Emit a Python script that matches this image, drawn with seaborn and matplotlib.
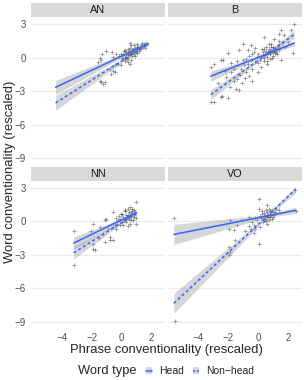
import numpy as np
import pandas as pd
import matplotlib
matplotlib.use("Agg")
import matplotlib.pyplot as plt
from matplotlib.patches import Patch, Rectangle
from matplotlib.lines import Line2D
import seaborn as sns

facets = ["AN", "B", "NN", "VO"]
word_types = ["Head", "Non\u2212head"]

# scatter points (phrase conventionality, word conventionality)
an_x = [-1.58, -1.47, -1.35, -1.31, -1.02, -0.62, -0.58, -0.36, -0.02, 0.09, 0.31, 0.42, 0.53, 0.53,
        0.65, 0.75, -1.47, -1.36, -1.24, -1.13, -0.69, -0.58, -0.47, -0.8, -0.24, -0.02, -0.47,
        0.1, 0.2, 0.3, 0.4, 0.5, 0.6, 0.7, 0.8, 0.9, 1.0, 1.1, 1.2, 1.3, 1.4, 1.5, 1.6, 1.7,
        0.2, 0.35, 0.45, 0.6, 0.7, 0.85, 0.95, 1.05, 1.15, 1.25, 0.0, 0.15, 0.55, 0.8, 1.0,
        0.4, 0.65, 0.9, 1.35, 1.55, 0.3, 0.5, 0.75, 1.0, -0.2, 0.25]
an_y = [-0.39, 0.0, -0.24, 0.36, 0.59, 0.5, 0.05, 0.36, 0.3, -0.09, 0.21, -0.39, -0.54, 1.31,
        1.1, 0.81, -2.04, -2.19, -2.34, -2.19, -1.44, -1.14, -0.69, -0.99, -0.54, -0.69, -1.29,
        0.35, 0.1, 0.5, 0.3, 0.6, 0.4, 0.7, 0.6, 0.9, 0.7, 1.0, 0.9, 1.1, 1.0, 1.2, 1.3, 1.2,
        -0.3, -0.1, 0.1, -0.2, 0.2, 0.3, 0.5, 0.4, 0.6, 0.8, 0.0, 0.6, 0.9, 1.1, 1.2,
        0.8, 0.45, 0.2, 1.3, 0.9, 0.0, 0.35, 0.55, 0.95, 0.2, 0.7]

b_x = [2.39, 2.32, -3.17, -3.17, -2.94, -2.5, -2.39, -2.05, -2.5, -2.34, -1.5, -1.28, 1.5, 1.39,
       0.39, -1.28, -2.05, -2.94, -2.17, -1.61, -1.83, -1.05, -0.5, -0.72, -0.39, -0.5, -0.95,
       -1.17, -0.83, -0.61, -0.39, -0.05, 0.17, 1.05, 1.39, 1.72, 1.95, 2.17, 1.5, 0.61, 0.83,
       1.28, -1.8, -1.6, -1.4, -1.2, -1.0, -0.9, -0.7, -0.6, -0.4, -0.3, -0.2, 0.0, 0.0, -2.7,
       -2.2, -1.9, -1.4, -1.1, -0.8, -0.2, 0.2, 0.3, 0.4, 0.5, 0.6, 0.7, 0.8, 0.9, 1.0, 1.1,
       1.2, 1.3, 0.35, 0.55, 0.75, 0.95, 1.15, 0.45, 0.65, 0.85, 1.05, 0.25, 0.5, 0.7, 1.4,
       1.6, 1.8, 0.1, 0.9, 1.25, 0.6, 0.4, 1.0, -0.1, 0.75, 1.1, 0.3, 0.8]
b_y = [3.05, 0.41, -0.84, -3.93, -3.93, -3.54, -3.39, -3.63, -0.24, -0.18, -2.79, -2.88, 2.45, 1.46,
       1.85, 0.66, 0.41, -0.54, -1.74, -2.04, -1.29, 1.26, 1.1, 0.66, 0.36, -0.24, -0.69,
       -0.99, -1.29, -1.59, -2.04, -1.29, -0.84, 1.7, 2.16, 2.0, 1.4, 2.45, -0.24, -0.54, 1.26,
       0.95, -0.5, -1.0, -0.3, -1.5, -0.2, -1.8, -0.6, 0.2, -1.0, 0.5, -0.4, 0.3, -0.5, -2.3,
       -1.2, -2.6, -1.9, -2.3, -0.1, 0.9, 0.2, 0.5, 0.0, 0.6, 0.3, 0.8, 0.4, 0.7, 0.2, 0.9,
       0.5, 1.1, -0.3, 0.1, -0.1, 0.5, 0.75, 0.35, 0.55, 0.95, 0.6, 0.8, 1.0, 1.2, 0.7,
       1.3, 1.0, -0.2, 0.0, 0.3, -0.3, 0.75, 1.0, 0.1, 0.35, 0.45, 0.15, 0.65]

nn_x = [-3.2, -3.2, -1.91, -2.02, -1.91, -1.91, -1.8, -1.47, -1.25, -1.13, -1.02, -1.13, -0.8,
        -0.8, -0.58, -0.58, -0.47, -0.36, -0.24, -0.13, -0.02, 0.2, 0.42, 0.53, 0.93, 0.98, 0.75,
        -0.3, -0.1, 0.0, 0.1, 0.2, 0.3, 0.4, 0.5, 0.6, 0.7, 0.8, 0.9, 0.1, 0.3, 0.5, 0.65, 0.85,
        0.25, 0.45, 0.7, -0.2, 0.05, 0.55, 0.35, 0.95, -0.6, -0.9, 0.15, 0.6, -1.5, -0.4, 0.8, 0.4]
nn_y = [-0.9, -3.95, -0.21, -0.9, -2.0, -2.45, -2.55, -0.51, -1.1, -1.86, 0.24, 0.09, -1.41,
        -1.71, -1.71, 0.84, -0.36, -0.66, 0.09, -0.36, 0.69, 0.99, 1.14, 1.28, 1.73, -0.21, 0.09,
        -0.2, 0.2, -0.1, 0.4, 0.1, 0.6, 0.3, 0.8, 0.5, 0.9, 0.6, 0.8, -0.3, -0.1, 0.2, 0.1, 0.4,
        0.9, 0.55, 1.1, 0.5, 0.7, -0.2, 0.35, 0.3, -0.5, -0.7, 0.15, 0.75, -1.5, 0.3, 1.0, -0.4]

vo_x = [-5.63, -5.57, -1.86, -1.97, -1.63, -1.57, -1.97, -1.95, -1.88, 0.03, 0.03, -1.08, -0.63,
        -0.52, -0.3, -0.19, -0.41, -0.08, 0.26, 0.48, 0.7, 0.92, 1.14, 1.37, 0.37, 0.14, 0.59,
        0.81, 0.03, 0.59, 2.45, 2.48, 0.2, 0.35, 0.45, 0.55, 0.65, 0.75, 0.85, 0.95, 1.05, 0.3,
        0.5, 0.7, 0.6, 0.4, 0.8, 1.0, 1.2, 0.1, -0.2, 0.25, 0.9, 0.55, -0.6, -1.4, -0.9, -0.3,
        0.65, 0.45]
vo_y = [0.33, -8.9, 0.15, -0.66, -0.75, -1.71, -2.31, -3.0, -2.76, -2.07, 2.04, 0.15, -0.42,
        -0.66, -0.36, -0.66, -0.06, 0.09, 0.69, 0.99, 1.14, 0.99, 0.84, 0.99, 0.09, -0.51, -0.21,
        0.39, 1.14, 1.44, 2.8, 0.95, 0.3, 0.5, 0.2, 0.6, 0.4, 0.7, 0.55, 0.8, 0.6, -0.1,
        0.0, 0.1, 0.85, 0.75, 0.95, 0.4, 1.1, 0.45, 0.3, 0.95, 0.25, 0.35, 0.4, -0.3, -0.9, -1.0,
        0.55, 0.45]

# fitted lines: x at start / near mean / end, fitted y there and CI half width
an_fit_x = [-4.4, 0.4, 1.75]
an_head_y = [-2.64, 0.40, 1.26]
an_head_ci = [0.63, 0.10, 0.18]
an_non_y = [-4.04, 0.05, 1.22]
an_non_ci = [0.67, 0.10, 0.18]

b_fit_x = [-3.17, 0.3, 2.39]
b_head_y = [-1.65, 0.20, 1.31]
b_head_ci = [0.45, 0.08, 0.22]
b_non_y = [-3.30, 0.06, 2.09]
b_non_ci = [0.45, 0.08, 0.37]

nn_fit_x = [-3.2, 0.0, 0.98]
nn_head_y = [-1.95, 0.14, 0.78]
nn_head_ci = [0.55, 0.10, 0.20]
nn_non_y = [-2.82, -0.11, 0.72]
nn_non_ci = [0.55, 0.10, 0.20]

vo_fit_x = [-5.63, 0.5, 2.48]
vo_head_y = [-1.17, 0.46, 0.99]
vo_head_ci = [0.90, 0.12, 0.28]
vo_non_y = [-7.34, 0.36, 2.85]
vo_non_ci = [0.90, 0.12, 0.30]

pts = pd.concat([
    pd.DataFrame({"facet": f, "x": xs, "y": ys})
    for f, xs, ys in [("AN", an_x, an_y), ("B", b_x, b_y), ("NN", nn_x, nn_y), ("VO", vo_x, vo_y)]
])

fit_rows = []
for f, fx, hy, hc, ny, nc in [
    ("AN", an_fit_x, an_head_y, an_head_ci, an_non_y, an_non_ci),
    ("B", b_fit_x, b_head_y, b_head_ci, b_non_y, b_non_ci),
    ("NN", nn_fit_x, nn_head_y, nn_head_ci, nn_non_y, nn_non_ci),
    ("VO", vo_fit_x, vo_head_y, vo_head_ci, vo_non_y, vo_non_ci),
]:
    for t, ys, cs in [(word_types[0], hy, hc), (word_types[1], ny, nc)]:
        for xv, yv, cv in zip(fx, ys, cs):
            fit_rows.append({"facet": f, "type": t, "x": xv, "y": yv, "lo": yv - cv, "hi": yv + cv})
fits = pd.DataFrame(fit_rows)

sns.set_theme(style="white")
plt.rcParams["font.family"] = ["Liberation Sans", "DejaVu Sans"]

BLUE = "#3366FF"
BAND = "#999999"
dash_map = {word_types[0]: "", word_types[1]: (2, 1.6)}

fig, axes = plt.subplots(2, 2, figsize=(3.04, 3.80), dpi=100, sharex=True, sharey=True)
fig.subplots_adjust(left=31 / 304, right=301.7 / 304, top=1 - 17 / 380, bottom=1 - 327.5 / 380,
                    wspace=2.7 / 134, hspace=16.7 / 147)

for ax, f in zip(axes.flat, facets):
    p = pts[pts["facet"] == f]
    sns.scatterplot(data=p, x="x", y="y", marker="+", s=9, color="black", alpha=0.45,
                    linewidth=0.55, ax=ax, legend=False, zorder=2)
    fsub = fits[fits["facet"] == f]
    for t in word_types:
        d = fsub[fsub["type"] == t]
        ax.fill_between(d["x"], d["lo"], d["hi"], color=BAND, alpha=0.4, lw=0, zorder=3)
    sns.lineplot(data=fsub, x="x", y="y", style="type", dashes=dash_map, color=BLUE, lw=1.1,
                 estimator=None, sort=False, ax=ax, legend=False, zorder=4)

    ax.set_xlim(-6.04, 2.89)
    ax.set_ylim(-9.5, 3.65)
    ax.set_xticks([-4, -2, 0, 2])
    ax.set_yticks([3, 0, -3, -6, -9])
    ax.set_xlabel("")
    ax.set_ylabel("")
    for s in ax.spines.values():
        s.set_visible(False)
    ax.yaxis.grid(True, color="#EBEBEB", lw=0.9)
    ax.xaxis.grid(False)
    ax.set_axisbelow(True)
    ax.tick_params(labelsize=7, labelcolor="#4D4D4D", color="#333333", length=2.2, width=0.5, pad=1.5)

    # facet strip
    ax.add_patch(Rectangle((0, 1), 1, 14 / 147, transform=ax.transAxes, clip_on=False,
                           facecolor="#D9D9D9", edgecolor="none"))
    ax.text(0.5, 1 + 7 / 147, f, transform=ax.transAxes, ha="center", va="center",
            fontsize=7.8, color="#1A1A1A")

for ax in axes[0, :]:
    ax.tick_params(axis="x", length=0)
for ax in axes[:, 1]:
    ax.tick_params(axis="y", length=0)

fig.text(166 / 304, 1 - 350 / 380, "Phrase conventionality (rescaled)", ha="center", va="center",
         fontsize=9.4)
fig.text(10 / 304, 1 - 172 / 380, "Word conventionality (rescaled)", ha="center", va="center",
         rotation=90, fontsize=9.4)

# legend at the bottom
key_bg = Patch(facecolor="#D6D6D6", edgecolor="none")
h_head = (key_bg, Line2D([], [], color=BLUE, lw=1.1))
h_non = (key_bg, Line2D([], [], color=BLUE, lw=1.1, dashes=(1.5, 1.2)))
fig.text(107 / 304, 1 - 371 / 380, "Word type", ha="center", va="center", fontsize=9.3)
fig.legend([h_head, h_non], word_types, loc="center", bbox_to_anchor=(200 / 304, 1 - 371 / 380),
           ncol=2, frameon=False, fontsize=7.5, handlelength=0.6, handleheight=0.6,
           handletextpad=0.7, columnspacing=0.8, borderpad=0)

fig.savefig("out.png", dpi=100)
